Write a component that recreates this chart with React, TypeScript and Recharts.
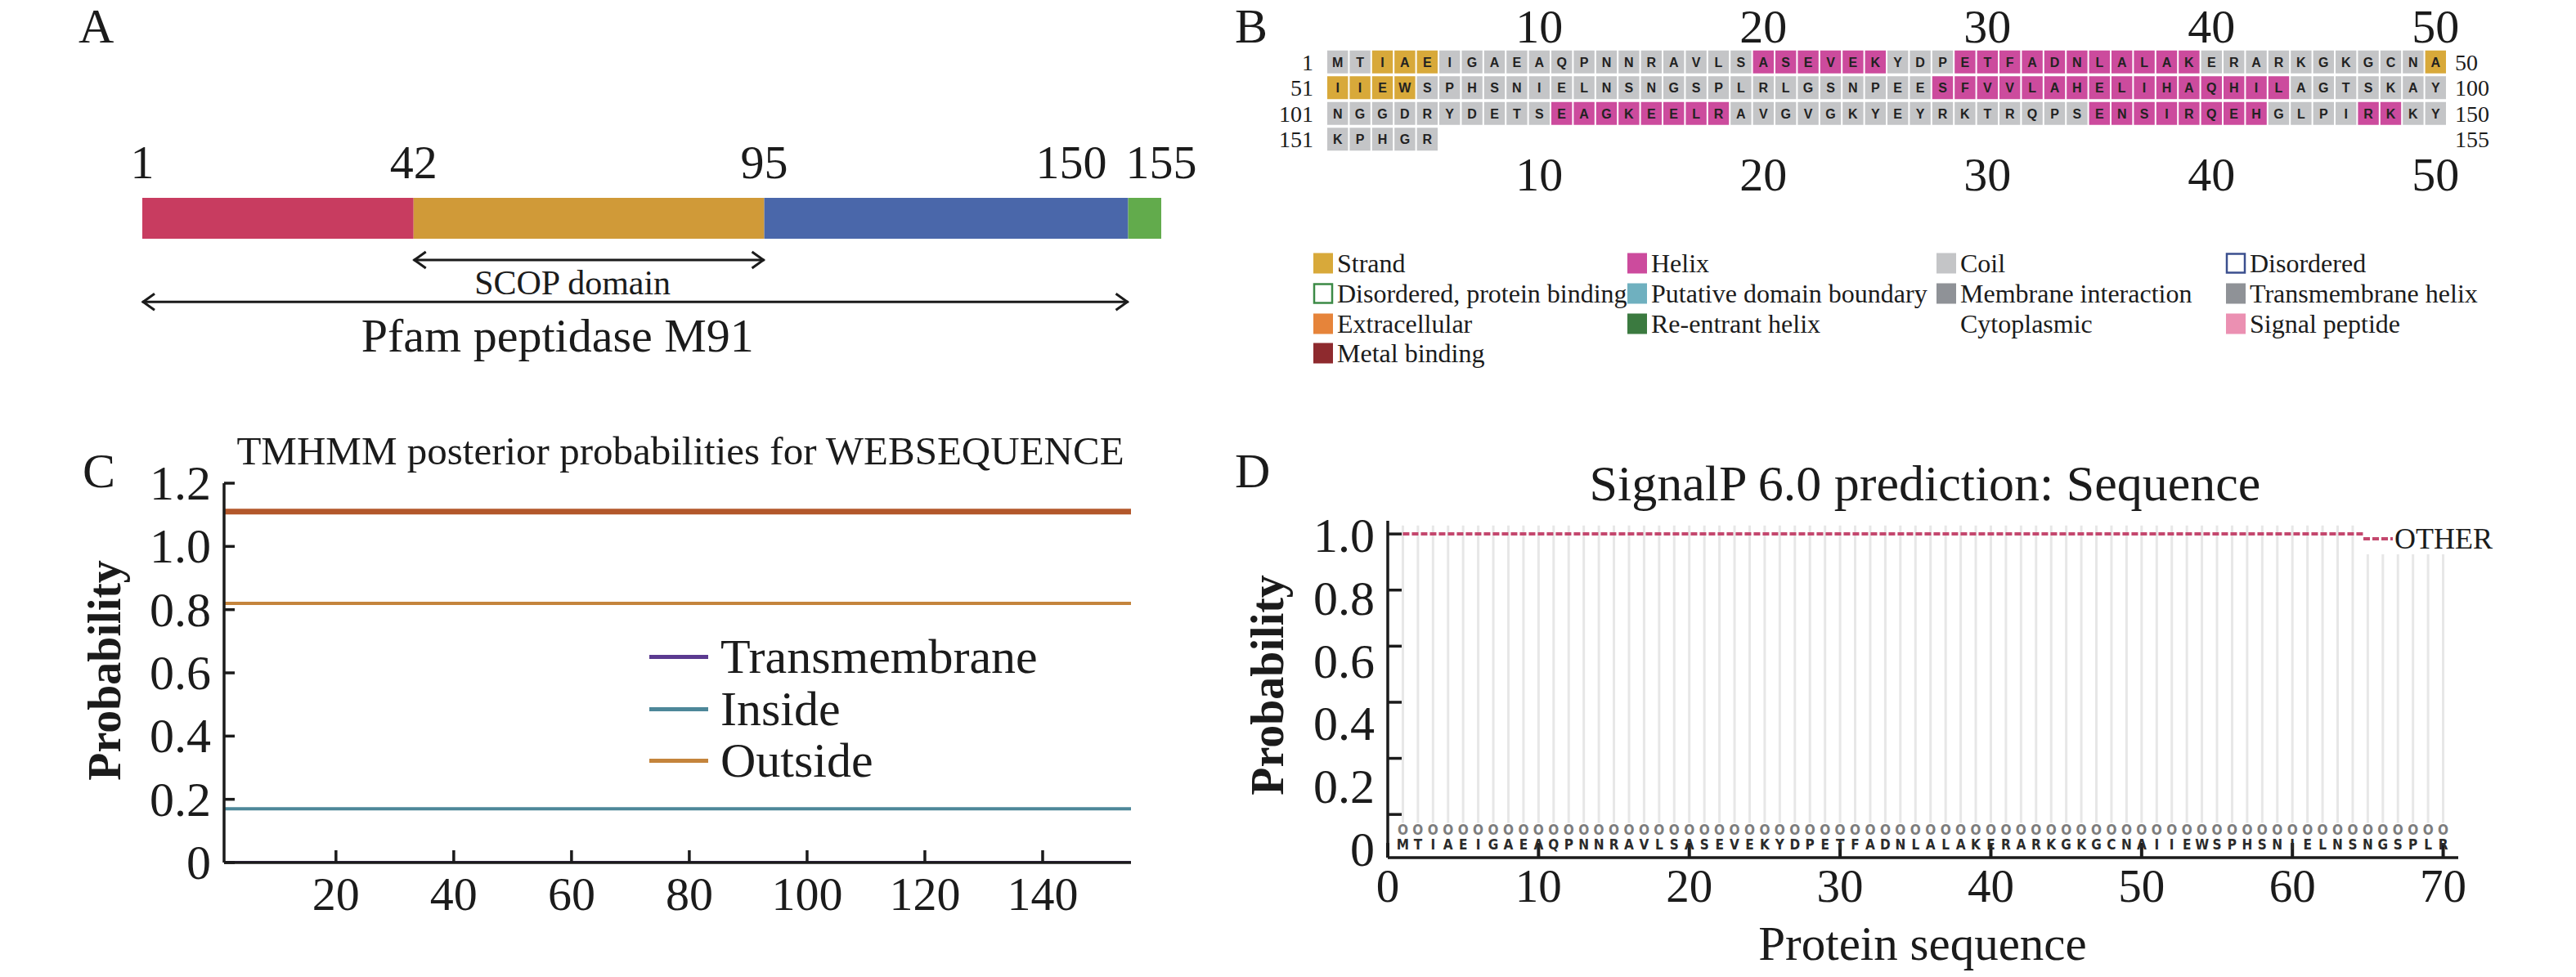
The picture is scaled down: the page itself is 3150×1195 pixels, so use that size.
import {
  Bar,
  BarChart,
  ComposedChart,
  Legend,
  Line,
  LineChart,
  ReferenceLine,
  Scatter,
  ScatterChart,
  XAxis,
  YAxis,
} from 'recharts';

const SERIF = '"Liberation Serif", "Times New Roman", serif';
const SANS = '"Liberation Sans", Arial, sans-serif';
const NARROW = '"Liberation Sans Narrow", "DejaVu Sans Condensed", "Liberation Sans", sans-serif';
const INK = '#1b1b1b';

// ---------- A: domain map ----------
const domainBounds = [1, 42, 95, 150, 155];
const domainColors = ['#c83c60', '#d09a38', '#4a67aa', '#62ab4c'];
const scopDomain = [42, 95];
const pfamDomain = [1, 150];

const domainBar: Record<string, number | string> = { row: 'bar', lead: domainBounds[0] };
domainColors.forEach((_, i) => {
  domainBar[`s${i}`] = domainBounds[i + 1] - domainBounds[i];
});
const domainRows = [domainBar, { row: 'scop' }, { row: 'pfam' }];

// ---------- B: sequence + secondary structure ----------
const sequence =
  'MTIAEIGAEAQPNNRAVLSASEVEKYDPETFADNLALAKERARKGKGCNA' +
  'IIEWSPHSNIELNSNGSPLRLGSNPEESFVVLAHELIHAQHILAGTSKAY' +
  'NGGDRYDETSEAGKEELRAVGVGKYEYRKTRQPSENSIRQEHGLPIRKKY' +
  'KPHGR';
// E = strand, H = helix, C = coil
const structure =
  'CC' + 'EEE' + 'CCCCCCCCCCCCCC' + 'HHHHHH' + 'CCC' + 'HHHHHHHHHHH' + 'CCCCCCCCCC' + 'E' +
  'EEEE' + 'CCCCCCCCCCCCCCCCCCCCCCC' + 'HHHHHHHHHHHHHHHH' + 'CCCCCCC' +
  'CCCCCCCCCC' + 'HHHHHHHH' + 'CCCCCCCCCCCCCCCC' + 'HHHHHHHH' + 'CCCC' + 'HH' + 'CC' +
  'CCCCC';
const colTicks = [10, 20, 30, 40, 50];
const rowStartLabels = ['1', '51', '101', '151'];
const rowEndLabels = ['50', '100', '150', '155'];
const ssColors: Record<string, string> = { E: '#d8a93a', H: '#cc4b9d', C: '#c4c5c7' };

const ssLegend = [
  [
    { name: 'Strand', fill: ssColors.E },
    { name: 'Disordered, protein binding', outline: '#3c8a46' },
    { name: 'Extracellular', fill: '#e6843a' },
    { name: 'Metal binding', fill: '#8e2a2e' },
  ],
  [
    { name: 'Helix', fill: ssColors.H },
    { name: 'Putative domain boundary', fill: '#6fb0bf' },
    { name: 'Re-entrant helix', fill: '#3b7a40' },
  ],
  [
    { name: 'Coil', fill: ssColors.C },
    { name: 'Membrane interaction', fill: '#8f9297' },
    { name: 'Cytoplasmic' },
  ],
  [
    { name: 'Disordered', outline: '#3b4f8e' },
    { name: 'Transmembrane helix', fill: '#8f9297' },
    { name: 'Signal peptide', fill: '#eb90b2' },
  ],
];

const cells = sequence.split('').map((aa, i) => ({
  col: (i % 50) + 1,
  row: Math.floor(i / 50) + 1,
  aa,
  ss: structure[i],
}));

// ---------- C: TMHMM ----------
const tmPos = [1, 155];
const tmTopology = [1.11, 1.11];
const tmTransmembrane = [0, 0];
const tmInside = [0.17, 0.17];
const tmOutside = [0.82, 0.82];
const tmTicksX = [20, 40, 60, 80, 100, 120, 140];
const tmTicksY = [0, 0.2, 0.4, 0.6, 0.8, 1.0, 1.2];
const tmLegendOrder = ['Transmembrane', 'Inside', 'Outside'];
const tmData = tmPos.map((pos, i) => ({
  pos,
  top: tmTopology[i],
  tm: tmTransmembrane[i],
  inside: tmInside[i],
  outside: tmOutside[i],
}));

// ---------- D: SignalP ----------
const otherProb = [
  1.0, 1.0, 1.0, 1.0, 1.0, 1.0, 1.0, 1.0, 1.0, 1.0,
  1.0, 1.0, 1.0, 1.0, 1.0, 1.0, 1.0, 1.0, 1.0, 1.0,
  1.0, 1.0, 1.0, 1.0, 1.0, 1.0, 1.0, 1.0, 1.0, 1.0,
  1.0, 1.0, 1.0, 1.0, 1.0, 1.0, 1.0, 1.0, 1.0, 1.0,
  1.0, 1.0, 1.0, 1.0, 1.0, 1.0, 1.0, 1.0, 1.0, 1.0,
  1.0, 1.0, 1.0, 1.0, 1.0, 1.0, 1.0, 1.0, 1.0, 1.0,
  1.0, 1.0, 1.0, 1.0, 1.0, 1.0, 1.0, 1.0, 1.0, 1.0,
];
const predictedLabels = 'OOOOOOOOOOOOOOOOOOOOOOOOOOOOOOOOOOOOOOOOOOOOOOOOOOOOOOOOOOOOOOOOOOOOOO';
const sigTicksX = [0, 10, 20, 30, 40, 50, 60, 70];
const sigTicksY = [0, 0.2, 0.4, 0.6, 0.8, 1.0];
const signalData = otherProb.map((v, i) => ({
  pos: i + 1,
  other: v,
  aa: sequence[i],
  lab: predictedLabels[i],
}));
const signalPos = signalData.map((d) => d.pos);

const fmtProb = (v: number) => (v === 0 ? '0' : v.toFixed(1));
const axisStyle = { stroke: INK, strokeWidth: 3.5 };

const Arrow = (p: any) => {
  const { x1, y1, x2 } = p;
  return (
    <g stroke={INK} strokeWidth={3} fill="none">
      <line x1={x1} y1={y1} x2={x2} y2={y1} />
      <polyline points={`${x1 + 15},${y1 - 10} ${x1 + 1},${y1} ${x1 + 15},${y1 + 10}`} />
      <polyline points={`${x2 - 15},${y1 - 10} ${x2 - 1},${y1} ${x2 - 15},${y1 + 10}`} />
    </g>
  );
};

// text under a domain arrow; dx nudges it off the arrow centre as in the figure
const arrowLabel = (text: string, size: number, dy: number, dx = 0) => (lp: any) => {
  const vb = lp.viewBox || {};
  const cx = (vb.x ?? 0) + (vb.width ?? 0) / 2 + dx;
  const cy = (vb.y ?? 0) + dy;
  return (
    <text x={cx} y={cy} textAnchor="middle" fontSize={size} fontFamily={SERIF} fill={INK}>
      {text}
    </text>
  );
};

const SeqCell = (p: any) => {
  const { cx, cy, payload } = p;
  if (cx == null || cy == null) return <g />;
  return (
    <g>
      <rect x={cx - 12.7} y={cy - 14} width={25.4} height={28} fill={ssColors[payload.ss]} />
      <text x={cx} y={cy + 6} textAnchor="middle" fontSize={16} fontWeight="bold" fontFamily={SANS} fill="#222">
        {payload.aa}
      </text>
    </g>
  );
};

const TmLegend = (props: any) => {
  const items = props.payload || [];
  return (
    <div>
      {tmLegendOrder.map((name) => {
        const item = items.find((it: any) => it.value === name);
        if (!item) return null;
        return (
          <div key={name} style={{ display: 'flex', alignItems: 'center', height: 63.5 }}>
            <div style={{ width: 72, height: 5, background: item.color, marginRight: 15 }} />
            <span style={{ fontFamily: SERIF, fontSize: 60, lineHeight: '63px', color: INK }}>{name}</span>
          </div>
        );
      })}
    </div>
  );
};

const SignalLegend = (props: any) => (
  <div style={{ background: '#fff', display: 'flex', alignItems: 'center', height: 38 }}>
    {(props.payload || []).map((item: any) => (
      <div key={item.value} style={{ display: 'flex', alignItems: 'center' }}>
        <svg width={36} height={10} style={{ marginRight: 2 }}>
          <line x1={0} x2={36} y1={5} y2={5} stroke={item.color} strokeWidth={4} strokeDasharray="8 3" />
        </svg>
        <span style={{ fontFamily: SERIF, fontSize: 36, lineHeight: '38px', color: INK }}>{item.value}</span>
      </div>
    ))}
  </div>
);

function DomainMap() {
  return (
    <BarChart
      layout="vertical"
      width={1500}
      height={500}
      data={domainRows}
      margin={{ top: 240, right: 80, bottom: 105, left: 174 }}
      barCategoryGap={0}
      barSize={50}
    >
      <Bar dataKey="lead" stackId="d" fill="transparent" isAnimationActive={false} />
      {domainColors.map((c, i) => (
        <Bar key={c} dataKey={`s${i}`} stackId="d" fill={c} isAnimationActive={false} />
      ))}
      <XAxis
        type="number"
        orientation="top"
        domain={[1, 155]}
        allowDataOverflow
        ticks={domainBounds}
        interval={0}
        height={1}
        axisLine={false}
        tickLine={false}
        tickSize={0}
        tickMargin={0}
        tick={(p: any) => {
          const nearEnd = p.payload.value === domainBounds[domainBounds.length - 2];
          return (
            <text
              x={nearEnd ? p.x - 26 : p.x}
              y={p.y - 23}
              textAnchor={nearEnd ? 'end' : 'middle'}
              fontSize={58}
              fontFamily={SERIF}
              fill={INK}
            >
              {p.payload.value}
            </text>
          );
        }}
      />
      <YAxis type="category" dataKey="row" hide />
      <ReferenceLine
        segment={[
          { x: scopDomain[0], y: 'scop' },
          { x: scopDomain[1], y: 'scop' },
        ]}
        shape={Arrow}
        label={arrowLabel('SCOP domain', 42, 42, -20)}
      />
      <ReferenceLine
        segment={[
          { x: pfamDomain[0], y: 'pfam' },
          { x: pfamDomain[1], y: 'pfam' },
        ]}
        shape={Arrow}
        label={arrowLabel('Pfam peptidase M91', 58, 61, -95)}
      />
    </BarChart>
  );
}

function SequencePanel() {
  const colTick = (dy: number) => (p: any) => (
    <text x={p.x} y={p.y + dy} textAnchor="middle" fontSize={58} fontFamily={SERIF} fill={INK}>
      {p.payload.value}
    </text>
  );
  return (
    <ScatterChart width={1650} height={260} margin={{ top: 59, right: 157, bottom: 73, left: 121 }}>
      <XAxis xAxisId="bot" dataKey="col" type="number" domain={[0.5, 50.5]} allowDataOverflow ticks={colTicks}
        interval={0} height={1} axisLine={false} tickLine={false} tickSize={0} tickMargin={0} tick={colTick(47)} />
      <XAxis xAxisId="top" dataKey="col" type="number" orientation="top" domain={[0.5, 50.5]} allowDataOverflow
        ticks={colTicks} interval={0} height={1} axisLine={false} tickLine={false} tickSize={0} tickMargin={0}
        tick={colTick(-8)} />
      <YAxis yAxisId="l" dataKey="row" type="number" domain={[0.5, 4.5]} reversed allowDataOverflow ticks={[1, 2, 3, 4]}
        interval={0} width={1} axisLine={false} tickLine={false} tickSize={0} tickMargin={0}
        tick={(p: any) => (
          <text x={p.x - 16} y={p.y + 10} textAnchor="end" fontSize={28} fontFamily={SERIF} fill={INK}>
            {rowStartLabels[p.payload.value - 1]}
          </text>
        )} />
      <YAxis yAxisId="r" dataKey="row" type="number" orientation="right" domain={[0.5, 4.5]} reversed allowDataOverflow
        ticks={[1, 2, 3, 4]} interval={0} width={1} axisLine={false} tickLine={false} tickSize={0} tickMargin={0}
        tick={(p: any) => (
          <text x={p.x + 10} y={p.y + 10} textAnchor="start" fontSize={28} fontFamily={SERIF} fill={INK}>
            {rowEndLabels[p.payload.value - 1]}
          </text>
        )} />
      <Scatter data={cells} xAxisId="bot" yAxisId="l" shape={SeqCell} isAnimationActive={false} />
      <Scatter data={cells} xAxisId="top" yAxisId="r" shape={() => <g />} isAnimationActive={false} />
    </ScatterChart>
  );
}

function TmhmmPanel() {
  return (
    <LineChart width={1500} height={695} data={tmData} margin={{ top: 91, right: 117, bottom: 139, left: 273 }}>
      <Line dataKey="top" stroke="#b3582b" strokeWidth={7} dot={false} legendType="none" isAnimationActive={false} />
      <Line dataKey="tm" name="Transmembrane" stroke="#5b3a90" strokeWidth={4} dot={false} isAnimationActive={false} />
      <Line dataKey="inside" name="Inside" stroke="#4d8799" strokeWidth={4} dot={false} isAnimationActive={false} />
      <Line dataKey="outside" name="Outside" stroke="#c4843c" strokeWidth={4} dot={false} isAnimationActive={false} />
      <XAxis dataKey="pos" type="number" domain={[1, 155]} allowDataOverflow ticks={tmTicksX} interval={0}
        height={1} tickSize={0} tickMargin={0} tickLine={false} axisLine={axisStyle}
        tick={(p: any) => (
          <g>
            <line x1={p.x} x2={p.x} y1={p.y} y2={p.y - 15} stroke={INK} strokeWidth={3.5} />
            <text x={p.x} y={p.y + 58} textAnchor="middle" fontSize={58} fontFamily={SERIF} fill={INK}>
              {p.payload.value}
            </text>
          </g>
        )} />
      <YAxis type="number" domain={[0, 1.2]} allowDataOverflow ticks={tmTicksY} interval={0} width={1}
        tickSize={0} tickMargin={0} tickLine={false} axisLine={axisStyle}
        tick={(p: any) => (
          <g>
            <line x1={p.x} x2={p.x + 13} y1={p.y} y2={p.y} stroke={INK} strokeWidth={3.5} />
            <text x={p.x - 16} y={p.y + 20} textAnchor="end" fontSize={60} fontFamily={SERIF} fill={INK}>
              {fmtProb(p.payload.value)}
            </text>
          </g>
        )} />
      <Legend layout="vertical" align="center" verticalAlign="middle" content={TmLegend}
        wrapperStyle={{ left: 794, top: 272, width: 600, height: 200 }} />
    </LineChart>
  );
}

function SignalPanel() {
  return (
    <ComposedChart width={1650} height={695} data={signalData} margin={{ top: 137, right: 144, bottom: 144, left: 195 }}>
      {signalData.map((d) => (
        <ReferenceLine key={d.pos} xAxisId="main" yAxisId="tk"
          segment={[{ x: d.pos, y: -0.03 }, { x: d.pos, y: 1.03 }]} stroke="#e7e7e7" strokeWidth={3} />
      ))}
      <Line xAxisId="main" yAxisId="tk" dataKey="other" name="OTHER" stroke="#c4486e" strokeWidth={4}
        strokeDasharray="8 3" dot={false} isAnimationActive={false} />
      <XAxis xAxisId="main" dataKey="pos" type="number" domain={[0, 71]} allowDataOverflow ticks={sigTicksX} interval={0}
        height={1} axisLine={axisStyle} tickLine={false} tickSize={0} tickMargin={0}
        tick={(p: any) => (
          <g>
            <line x1={p.x} x2={p.x} y1={p.y} y2={p.y - 18} stroke={INK} strokeWidth={4} />
            <text x={p.x} y={p.y + 54} textAnchor="middle" fontSize={57} fontFamily={SERIF} fill={INK}>
              {p.payload.value}
            </text>
          </g>
        )} />
      <XAxis xAxisId="seq" dataKey="pos" type="number" domain={[0, 71]} allowDataOverflow ticks={signalPos} interval={0}
        height={1} axisLine={false} tickLine={false} tickSize={0} tickMargin={0}
        tick={(p: any) => {
          const d = signalData[p.payload.value - 1];
          return (
            <g fontFamily={NARROW} fontWeight="bold" fontSize={17} textAnchor="middle">
              <text x={p.x} y={p.y - 29} fill="#7c7c7c">{d.lab}</text>
              <text x={p.x} y={p.y - 11} fill="#2a2a2a">{d.aa}</text>
            </g>
          );
        }} />
      <YAxis yAxisId="lab" type="number" domain={[-0.026, 1.047]} allowDataOverflow ticks={sigTicksY} interval={0}
        width={1} axisLine={axisStyle} tickLine={false} tickSize={0} tickMargin={0}
        tick={(p: any) => (
          <text x={p.x - 16} y={p.y + 20} textAnchor="end" fontSize={60} fontFamily={SERIF} fill={INK}>
            {fmtProb(p.payload.value)}
          </text>
        )} />
      <YAxis yAxisId="tk" type="number" domain={[-0.154, 1.047]} allowDataOverflow ticks={sigTicksY} interval={0}
        width={1} axisLine={false} tickLine={false} tickSize={0} tickMargin={0}
        tick={(p: any) => <line x1={p.x} x2={p.x + 18} y1={p.y} y2={p.y} stroke={INK} strokeWidth={3.5} />} />
      <Legend layout="vertical" align="center" verticalAlign="middle" content={SignalLegend}
        wrapperStyle={{ left: 1390, top: 140, width: 170, height: 38 }} />
    </ComposedChart>
  );
}

const legendColX = [1606, 1990, 2368, 2722];
const legendRowY = [322, 359, 396, 432];

export default function App() {
  return (
    <div style={{ position: 'absolute', left: 0, top: 0, width: 3150, height: 1195, background: '#fff', overflow: 'hidden' }}>
      <div style={{ position: 'absolute', left: 0, top: 0 }}>
        <DomainMap />
      </div>
      <div style={{ position: 'absolute', left: 1500, top: 0 }}>
        <SequencePanel />
      </div>
      <div style={{ position: 'absolute', left: 0, top: 500 }}>
        <TmhmmPanel />
      </div>
      <div style={{ position: 'absolute', left: 1500, top: 500 }}>
        <SignalPanel />
      </div>
      <svg width={3150} height={1195} style={{ position: 'absolute', left: 0, top: 0, pointerEvents: 'none' }}>
        <g fontFamily={SERIF} fill={INK}>
          <text x={96} y={52} fontSize={60}>A</text>
          <text x={1510} y={52} fontSize={60}>B</text>
          <text x={101} y={596} fontSize={60}>C</text>
          <text x={1510} y={596} fontSize={60}>D</text>
          <text x={832} y={568} fontSize={49} textAnchor="middle">TMHMM posterior probabilities for WEBSEQUENCE</text>
          <text x={2354} y={612} fontSize={62} textAnchor="middle">SignalP 6.0 prediction: Sequence</text>
          <text x={2351} y={1174} fontSize={59} textAnchor="middle">Protein sequence</text>
          <text x={0} y={0} fontSize={56} fontWeight="bold" textAnchor="middle" dominantBaseline="central"
            transform="translate(128 820) rotate(-90)">Probability</text>
          <text x={0} y={0} fontSize={56} fontWeight="bold" textAnchor="middle" dominantBaseline="central"
            transform="translate(1550 838) rotate(-90)">Probability</text>
          {ssLegend.map((items, c) =>
            items.map((it: any, r) => {
              const x = legendColX[c];
              const y = legendRowY[r];
              return (
                <g key={it.name}>
                  {it.fill && <rect x={x} y={y - 12.5} width={24} height={25} fill={it.fill} />}
                  {it.outline && (
                    <rect x={x + 1} y={y - 11.5} width={22} height={23} fill="#fff" stroke={it.outline} strokeWidth={2.5} />
                  )}
                  <text x={x + 29} y={y + 11} fontSize={32}>{it.name}</text>
                </g>
              );
            }),
          )}
        </g>
      </svg>
    </div>
  );
}
